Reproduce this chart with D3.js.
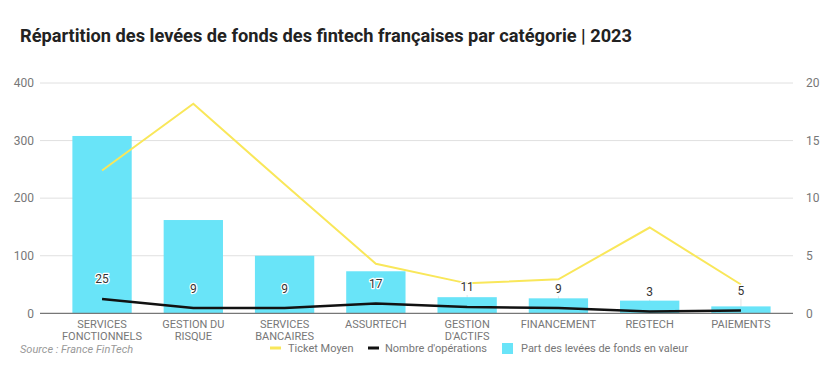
<!DOCTYPE html>
<html><head><meta charset="utf-8">
<script src="https://cdn.jsdelivr.net/npm/d3@7"></script>
<style>
body{margin:0;background:#fff;}
svg{display:block;font-family:Roboto,"Noto Sans",sans-serif;}
</style></head>
<body><svg id="c" width="838" height="382"></svg>
<script>
const categories = [["SERVICES","FONCTIONNELS"],["GESTION DU","RISQUE"],["SERVICES","BANCAIRES"],["ASSURTECH"],["GESTION","D'ACTIFS"],["FINANCEMENT"],["REGTECH"],["PAIEMENTS"]];
const partLevees = [308, 162, 100, 73, 28, 26, 22, 12];
const nbOperations = [25, 9, 9, 17, 11, 9, 3, 5];
const ticketMoyen = [12.4, 18.2, 11.2, 4.3, 2.6, 2.95, 7.45, 2.5];
const leftTicks = [0, 100, 200, 300, 400];
const rightTicks = [0, 5, 10, 15, 20];
const legendLabels = ["Ticket Moyen", "Nombre d'opérations", "Part des levées de fonds en valeur"];
const title = "Répartition des levées de fonds des fintech françaises par catégorie | 2023";
const source = "Source : France FinTech";

const svg = d3.select("#c");
const keys = categories.map(c => c.join(" "));
const x = d3.scaleBand().domain(keys).range([45, 798]).paddingInner(0.35).paddingOuter(0.3);
const yL = d3.scaleLinear().domain([0, 400]).range([313.3, 83]);
const yR = d3.scaleLinear().domain([0, 20]).range([313.3, 83]);
const cx = i => x(keys[i]) + x.bandwidth() / 2;

// title
svg.append("text").attr("x", 20).attr("y", 42).attr("font-size", 19).attr("font-weight", 700)
  .attr("fill", "#222").attr("textLength", 612).attr("lengthAdjust", "spacingAndGlyphs").text(title);

// gridlines
svg.append("g").selectAll("line").data(leftTicks.slice(1)).join("line")
  .attr("x1", 40).attr("x2", 793).attr("y1", d => yL(d)).attr("y2", d => yL(d))
  .attr("stroke", "#e0e0e0").attr("stroke-width", 1);

// left axis
const axL = svg.append("g").attr("transform", "translate(40,0)")
  .call(d3.axisLeft(yL).tickValues(leftTicks).tickSize(0).tickPadding(6));
axL.select(".domain").remove();
axL.selectAll("text").attr("font-size", 12).attr("fill", "#777").attr("font-family", "Roboto");
// right axis
const axR = svg.append("g").attr("transform", "translate(793,0)")
  .call(d3.axisRight(yR).tickValues(rightTicks).tickSize(0).tickPadding(13));
axR.select(".domain").remove();
axR.selectAll("text").attr("font-size", 12).attr("fill", "#777").attr("font-family", "Roboto");

// leader lines (behind bars)
svg.append("g").selectAll("line").data(nbOperations).join("line")
  .attr("x1", (d, i) => cx(i)).attr("x2", (d, i) => cx(i))
  .attr("y1", d => yL(d) - 12).attr("y2", d => yL(d))
  .attr("stroke", "#e4e4e4").attr("stroke-width", 1);

// bars
svg.append("g").selectAll("rect").data(partLevees).join("rect")
  .attr("x", (d, i) => x(keys[i])).attr("width", x.bandwidth())
  .attr("y", d => yL(d)).attr("height", d => yL(0) - yL(d))
  .attr("fill", "#69e4f8");

// baseline
svg.append("line").attr("x1", 40).attr("x2", 793).attr("y1", yL(0)).attr("y2", yL(0))
  .attr("stroke", "#777").attr("stroke-width", 1.2);

// ticket moyen line
svg.append("path").datum(ticketMoyen)
  .attr("d", d3.line().x((d, i) => cx(i)).y(d => yR(d)))
  .attr("fill", "none").attr("stroke", "#f9e75a").attr("stroke-width", 2);

// nb operations line
svg.append("path").datum(nbOperations)
  .attr("d", d3.line().x((d, i) => cx(i)).y(d => yL(d)))
  .attr("fill", "none").attr("stroke", "#111").attr("stroke-width", 2.5);

// labels
svg.append("g").selectAll("text").data(nbOperations).join("text")
  .attr("x", (d, i) => cx(i)).attr("y", d => yL(d) - 15.5)
  .attr("text-anchor", "middle").attr("font-size", 12).attr("fill", "#333")
  .attr("stroke", "#fff").attr("stroke-width", 2.5).attr("paint-order", "stroke")
  .attr("stroke-linejoin", "round").text(d => d);

// category labels (one text per line)
const cg = svg.append("g").attr("font-size", 11).attr("fill", "#777").attr("text-anchor", "middle");
categories.forEach((lines, i) => {
  lines.forEach((ln, j) => {
    cg.append("text").attr("x", cx(i)).attr("y", 327.5 + j * 12.5).text(ln);
  });
});

// source
svg.append("text").attr("x", 20).attr("y", 353).attr("font-size", 11).attr("font-style", "italic")
  .attr("fill", "#999").text(source);

// legend
const lg = svg.append("g").attr("font-size", 11).attr("fill", "#777");
lg.append("line").attr("x1", 270).attr("x2", 281).attr("y1", 348).attr("y2", 348).attr("stroke", "#f9e75a").attr("stroke-width", 3);
lg.append("text").attr("x", 288).attr("y", 352).text(legendLabels[0]);
lg.append("line").attr("x1", 368).attr("x2", 379).attr("y1", 348).attr("y2", 348).attr("stroke", "#111").attr("stroke-width", 3);
lg.append("text").attr("x", 385).attr("y", 352).text(legendLabels[1]);
lg.append("rect").attr("x", 502).attr("y", 343).attr("width", 11).attr("height", 11).attr("fill", "#69e4f8");
lg.append("text").attr("x", 521).attr("y", 352).text(legendLabels[2]);
</script></body></html>
